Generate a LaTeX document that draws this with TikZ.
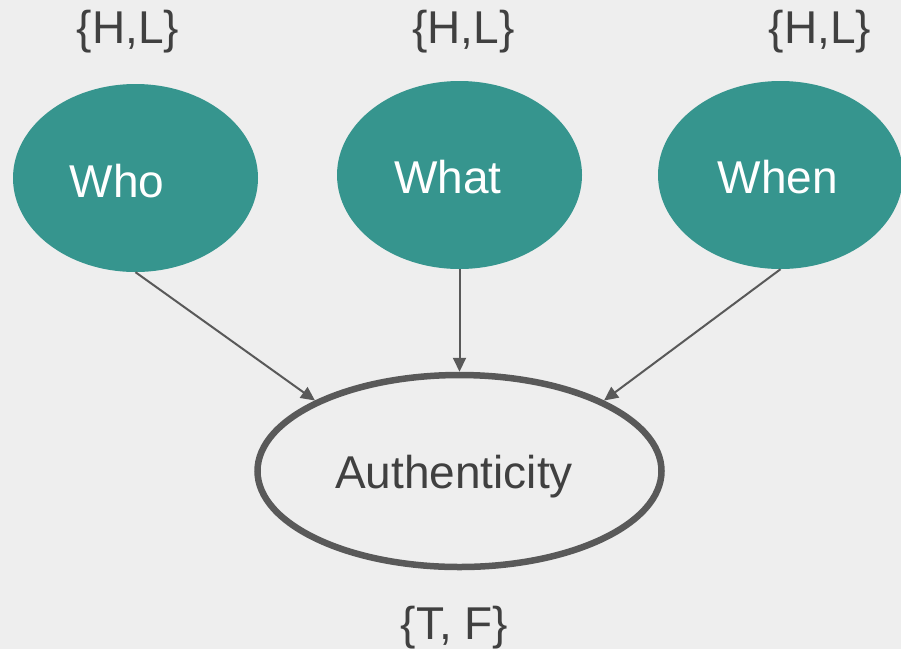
\documentclass[tikz,border=0pt]{standalone}
\usepackage{fontspec}
\setmainfont{Liberation Sans}
\usetikzlibrary{shapes.geometric,arrows.meta,positioning}
\definecolor{tealfill}{HTML}{36958E}
\definecolor{edgegray}{HTML}{595959}
\definecolor{txtgray}{HTML}{404040}
\definecolor{bggray}{HTML}{EEEEEE}

\begin{document}
\begin{tikzpicture}[
    x=1pt,y=-1pt,
    factor/.style={ellipse,fill=tealfill,minimum width=245pt,minimum height=188pt,inner sep=0pt},
    outcome/.style={ellipse,draw=edgegray,line width=6.5pt,fill=bggray,minimum width=404pt,minimum height=192pt,inner sep=0pt},
    varlabel/.style={anchor=base,inner sep=0pt,font=\fontsize{46}{55}\selectfont},
    states/.style={varlabel,text=txtgray},
    arrow/.style={-{Triangle[length=14pt,width=13pt]},line width=2pt,draw=edgegray}
  ]
    \fill[bggray] (0,0) rectangle (901,649);
    \useasboundingbox (0,0) rectangle (901,649);
    % parent nodes
    \node[factor] (who) at (135.5,178) {};
    \node[factor] (what) at (459.5,175) {};
    \node[factor] (when) at (780.5,175) {};
    \node[varlabel,text=white] (whoText) at (117,197) {Who};
    \node[varlabel,text=white] (whatText) at (448,193) {What};
    \node[varlabel,text=white] (whenText) at (778,193) {When};
    % child node
    \node[outcome] (auth) at (459.5,471) {};
    \node[states] (authText) at (454,488) {Authenticity};
    % state sets
    \node[states] (whoStates) at (128,43) {\{H,L\}};
    \node[states] (whatStates) at (463.5,43) {\{H,L\}};
    \node[states] (whenStates) at (820,43) {\{H,L\}};
    \node[states] (authStates) at (454.5,639) {\{T, F\}};
    \draw[arrow] (who.south) -- (auth.154);
    \draw[arrow] (what.south) -- (auth.north);
    \draw[arrow] (when.south) -- (auth.26);
  \end{tikzpicture}
\end{document}
